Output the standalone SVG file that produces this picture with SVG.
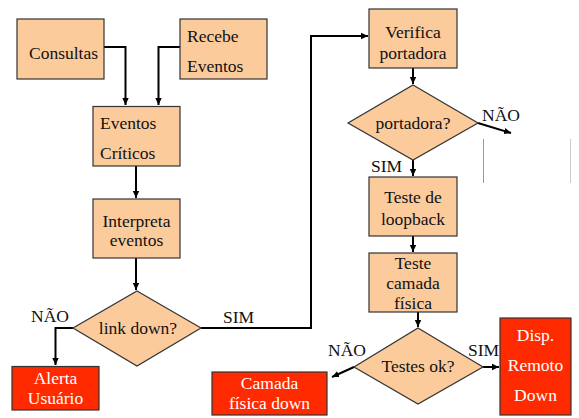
<svg xmlns="http://www.w3.org/2000/svg" width="579" height="418" viewBox="0 0 579 418">
  <style>
    .box { fill: #FBCB9C; stroke: #333; stroke-width: 1.2; }
    .alert { fill: #FF2A00; stroke: #333; stroke-width: 1.2; }
    .t { font-family: 'Liberation Serif', 'Tinos', 'Times New Roman', 'DejaVu Serif', serif; font-size: 17.5px; fill: #111; }
    .w { font-family: 'Liberation Serif', 'Tinos', 'Times New Roman', 'DejaVu Serif', serif; font-size: 17.5px; fill: #fff; }
    .c { text-anchor: middle; }
    .edge { fill: none; stroke: #000; stroke-width: 2; }
  </style>
  <defs>
    <marker id="arr" markerUnits="userSpaceOnUse" markerWidth="8" markerHeight="8" refX="7" refY="4" orient="auto">
      <path d="M0,0.8 L7,4 L0,7.2 Z" fill="#000"/>
    </marker>
  </defs>

  <g id="connectors">
    <path class="edge" d="M104,47 H125.5 V105" marker-end="url(#arr)"/>
    <path class="edge" d="M180,47 H158.5 V105" marker-end="url(#arr)"/>
    <path class="edge" d="M136,166 V198" marker-end="url(#arr)"/>
    <path class="edge" d="M136,258 V290" marker-end="url(#arr)"/>
    <path class="edge" d="M73,328 H55.5 V365" marker-end="url(#arr)"/>
    <path class="edge" d="M201,328 H311 V36 H368" marker-end="url(#arr)"/>
    <path class="edge" d="M413,68 V84" marker-end="url(#arr)"/>
    <path class="edge" d="M478,123 L511,133" marker-end="url(#arr)"/>
    <path class="edge" d="M413,160 V176" marker-end="url(#arr)"/>
    <path class="edge" d="M413,236 V252" marker-end="url(#arr)"/>
    <path class="edge" d="M418,312 V327" marker-end="url(#arr)"/>
    <path class="edge" d="M354,367 L332,377" marker-end="url(#arr)"/>
    <path class="edge" d="M483,367 H499" marker-end="url(#arr)"/>
    <text class="t" x="31" y="322">NÃO</text>
    <text class="t" x="223" y="323">SIM</text>
    <text class="t" x="482" y="121">NÃO</text>
    <text class="t" x="371" y="172">SIM</text>
    <text class="t" x="328" y="356">NÃO</text>
    <text class="t" x="468" y="356">SIM</text>
  </g>

  <!-- thin grey frame lines at right -->
  <g id="frame">
    <line x1="483.5" y1="139" x2="483.5" y2="183" stroke="#999" stroke-width="1"/>
    <line x1="570.5" y1="139" x2="570.5" y2="183" stroke="#ccc" stroke-width="1"/>
  </g>

  <g id="consultas">
    <rect class="box" x="17" y="19" width="87" height="60"/>
    <text class="t" x="29" y="59">Consultas</text>
  </g>
  <g id="recebe-eventos">
    <rect class="box" x="180" y="19" width="87" height="60"/>
    <text class="t" x="187" y="42">Recebe</text>
    <text class="t" x="187" y="72">Eventos</text>
  </g>
  <g id="eventos-criticos">
    <rect class="box" x="93" y="106.5" width="87" height="59.5"/>
    <text class="t" x="100" y="129">Eventos</text>
    <text class="t" x="100" y="159">Críticos</text>
  </g>
  <g id="interpreta">
    <rect class="box" x="93" y="199" width="87" height="59"/>
    <text class="t c" x="136.5" y="227">Interpreta</text>
    <text class="t c" x="136.5" y="246">eventos</text>
  </g>
  <g id="link-down">
    <polygon class="box" points="137,291 201,328 137,366 73,328"/>
    <text class="t c" x="138" y="334">link down?</text>
  </g>
  <g id="alerta-usuario">
    <rect class="alert" x="12" y="366.5" width="87" height="43.5"/>
    <text class="w c" x="55.5" y="384">Alerta</text>
    <text class="w c" x="55.5" y="404">Usuário</text>
  </g>
  <g id="verifica-portadora">
    <rect class="box" x="369" y="9" width="88" height="59"/>
    <text class="t c" x="413" y="38">Verifica</text>
    <text class="t c" x="413" y="59">portadora</text>
  </g>
  <g id="portadora">
    <polygon class="box" points="413,85 478,123 413,160 348,123"/>
    <text class="t c" x="413" y="129">portadora?</text>
  </g>
  <g id="teste-loopback">
    <rect class="box" x="369" y="177" width="88" height="59"/>
    <text class="t c" x="413" y="203">Teste de</text>
    <text class="t c" x="413" y="225">loopback</text>
  </g>
  <g id="teste-camada-fisica">
    <rect class="box" x="369" y="253" width="88" height="59"/>
    <text class="t c" x="413" y="269">Teste</text>
    <text class="t c" x="413" y="289">camada</text>
    <text class="t c" x="413" y="309">física</text>
  </g>
  <g id="testes-ok">
    <polygon class="box" points="418,328 483,367 418,404 354,367"/>
    <text class="t c" x="418" y="372">Testes ok?</text>
  </g>
  <g id="camada-fisica-down">
    <rect class="alert" x="212" y="372" width="115" height="43"/>
    <text class="w c" x="269.5" y="389">Camada</text>
    <text class="w c" x="269.5" y="409">física down</text>
  </g>
  <g id="disp-remoto-down">
    <rect class="alert" x="500" y="318" width="71" height="97"/>
    <text class="w c" x="535.5" y="341">Disp.</text>
    <text class="w c" x="535.5" y="371">Remoto</text>
    <text class="w c" x="535.5" y="401">Down</text>
  </g>
</svg>
